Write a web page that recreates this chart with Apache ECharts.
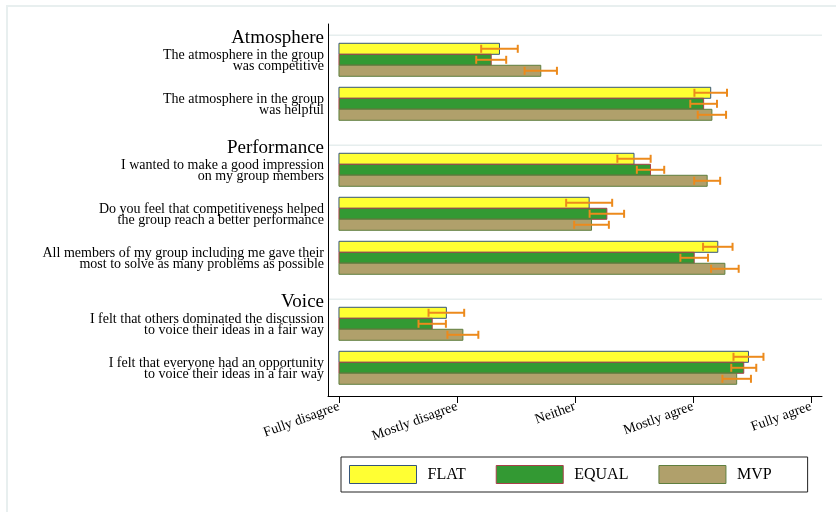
<!DOCTYPE html>
<html>
<head>
<meta charset="utf-8">
<script src="https://cdn.jsdelivr.net/npm/echarts@6/dist/echarts.min.js"></script>
<style>html,body{margin:0;padding:0;background:#fff}#c{width:836px;height:512px}</style>
</head>
<body>
<div id="c"></div>
<script>
// ---- data ----
const tickLabels = ['Fully disagree', 'Mostly disagree', 'Neither', 'Mostly agree', 'Fully agree'];
const tickValues = [1, 2, 3, 4, 5];
const sections = ['Atmosphere', 'Performance', 'Voice'];
const sectionSlots = [0, 5, 12];
const items = [
  'The atmosphere in the group\nwas competitive',
  'The atmosphere in the group\nwas helpful',
  'I wanted to make a good impression\non my group members',
  'Do you feel that competitiveness helped\nthe group reach a better performance',
  'All members of my group including me gave their\nmost to solve as many problems as possible',
  'I felt that others dominated the discussion\nto voice their ideas in a fair way',
  'I felt that everyone had an opportunity\nto voice their ideas in a fair way'
];
const itemSlots = [1, 3, 6, 8, 10, 13, 15];
const seriesNames = ['FLAT', 'EQUAL', 'MVP'];
const flat = [2.36, 4.15, 3.50, 3.12, 4.21, 1.91, 4.47];
const flatErr = [0.155, 0.138, 0.141, 0.195, 0.125, 0.151, 0.127];
const equal = [2.29, 4.09, 3.64, 3.27, 4.01, 1.79, 4.43];
const equalErr = [0.127, 0.113, 0.116, 0.146, 0.117, 0.116, 0.106];
const mvp = [2.71, 4.16, 4.12, 3.14, 4.27, 2.05, 4.37];
const mvpErr = [0.137, 0.120, 0.110, 0.147, 0.117, 0.131, 0.121];

// ---- styling ----
const fills = ['#ffff33', '#339933', '#b0a06b'];
const borders = ['#35557a', '#a8404a', '#5f7f3f'];
const errColor = '#ec8a1c';
const serif = '"Liberation Serif", "Times New Roman", serif';
const X_MIN = 0.907, X_MAX = 5.093;

const values = [flat, equal, mvp];
const errs = [flatErr, equalErr, mvpErr];

function barSeries(k) {
  return {
    name: seriesNames[k],
    type: 'custom',
    itemStyle: { color: fills[k], borderColor: borders[k], borderWidth: 1 },
    data: values[k].map((v, i) => [v, itemSlots[i], errs[k][i]]),
    encode: { x: 0, y: 1 },
    renderItem: function (params, api) {
      const v = api.value(0), y = api.value(1), e = api.value(2);
      const unit = Math.abs(api.size([0, 1])[1]);
      const h = unit * 0.5;
      const p0 = api.coord([1, y]);
      const p1 = api.coord([v, y]);
      const cy = p0[1] + (k - 1) * h;
      const xl = api.coord([v - e, y])[0];
      const xr = api.coord([v + e, y])[0];
      const capH = 8;
      return {
        type: 'group',
        children: [
          { type: 'rect', shape: { x: p0[0], y: cy - h / 2, width: p1[0] - p0[0], height: h },
            style: { fill: fills[k], stroke: borders[k], lineWidth: 1 } },
          { type: 'line', shape: { x1: xl, y1: cy, x2: xr, y2: cy }, style: { stroke: errColor, lineWidth: 2 } },
          { type: 'line', shape: { x1: xl, y1: cy - capH / 2, x2: xl, y2: cy + capH / 2 }, style: { stroke: errColor, lineWidth: 2 } },
          { type: 'line', shape: { x1: xr, y1: cy - capH / 2, x2: xr, y2: cy + capH / 2 }, style: { stroke: errColor, lineWidth: 2 } }
        ]
      };
    }
  };
}

const labelData = sections.map((s, i) => [sectionSlots[i], 1, s])
  .concat(items.map((t, i) => [itemSlots[i], 0, t]));

const labelSeries = {
  type: 'custom',
  silent: true,
  z: 5,
  data: labelData,
  encode: { y: 0 },
  renderItem: function (params, api) {
    const y = api.value(0), isHeader = api.value(1);
    const d = labelData[params.dataIndex];
    const p = api.coord([X_MIN, y]);
    const children = [];
    if (isHeader) {
      const a = api.coord([X_MIN, y - 0.12]);
      const b = api.coord([X_MAX, y - 0.12]);
      children.push({ type: 'line', shape: { x1: a[0] + 1, y1: a[1], x2: b[0], y2: b[1] },
        style: { stroke: '#e6eeee', lineWidth: 1.5 } });
      children.push({ type: 'text', style: { text: d[2], x: p[0] - 4, y: p[1] + 0.5, align: 'right', verticalAlign: 'middle',
        fontFamily: serif, fontSize: 19, fill: '#000' } });
    } else {
      children.push({ type: 'text', style: { text: d[2], x: p[0] - 4, y: p[1] + 1, align: 'right', verticalAlign: 'middle',
        fontFamily: serif, fontSize: 14, lineHeight: 11.5, fill: '#000' } });
    }
    return { type: 'group', children: children };
  }
};

const chart = echarts.init(document.getElementById('c'), null, { renderer: 'canvas' });
chart.setOption({
  backgroundColor: '#ffffff',
  animation: false,
  graphic: [{ type: 'rect', silent: true, shape: { x: 7, y: 6, width: 900, height: 600 },
    style: { fill: 'none', stroke: '#e8efef', lineWidth: 2 } }],
  grid: { left: 328, top: 24, width: 494, height: 372 },
  xAxis: {
    type: 'value', min: X_MIN, max: X_MAX,
    splitLine: { show: false },
    axisLine: { show: true, onZero: false, lineStyle: { color: '#000', width: 1 } },
    axisTick: { show: true, customValues: tickValues, length: 7, lineStyle: { color: '#000' } },
    axisLabel: { customValues: tickValues, rotate: 20, margin: 10,
      formatter: v => tickLabels[Math.round(v) - 1],
      fontFamily: serif, fontSize: 14, color: '#000' }
  },
  yAxis: {
    type: 'value', inverse: true, min: -0.627, max: 16.282,
    splitLine: { show: false },
    axisLine: { show: true, onZero: false, lineStyle: { color: '#000', width: 1 } },
    axisTick: { show: false }, axisLabel: { show: false }
  },
  legend: {
    left: 341, top: 457, orient: 'horizontal',
    itemWidth: 67, itemHeight: 18, itemGap: 30,
    padding: [8, 36, 8, 8],
    borderColor: '#222', borderWidth: 1,
    icon: 'rect',
    textStyle: { fontFamily: serif, fontSize: 16, color: '#000', padding: [0, 0, 0, 6] },
    data: seriesNames.map((n, k) => ({ name: n, itemStyle: { color: fills[k], borderColor: borders[k], borderWidth: 1 } }))
  },
  series: [barSeries(0), barSeries(1), barSeries(2), labelSeries]
});
</script>
</body>
</html>
